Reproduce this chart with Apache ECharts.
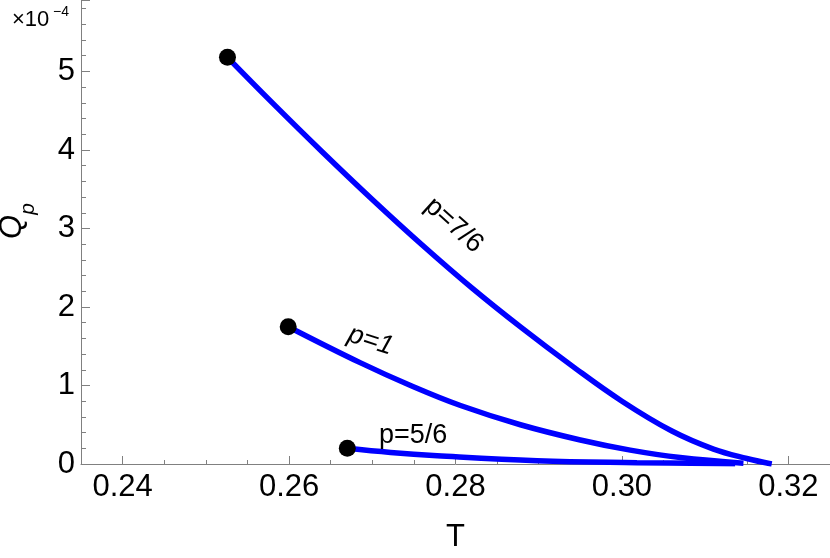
<!DOCTYPE html>
<html><head><meta charset="utf-8">
<script src="https://cdn.jsdelivr.net/npm/echarts@6/dist/echarts.min.js"></script>
<style>html,body{margin:0;padding:0;background:#fff}#c{width:830px;height:558px}</style>
</head><body><div id="c"></div>
<script>
// Q_p values are in units of 1e-4 (axis shows ×10^-4)
const T_p76 = [0.2526, 0.2580, 0.2640, 0.2700, 0.2760, 0.2820, 0.2880, 0.2940, 0.3000, 0.3060, 0.3110, 0.3150, 0.3180];
const Q_p76 = [5.18, 4.60, 3.975, 3.37, 2.79, 2.24, 1.73, 1.25, 0.80, 0.42, 0.19, 0.07, 0.0];
const T_p1  = [0.2599, 0.2686, 0.2746, 0.2806, 0.2878, 0.2950, 0.3010, 0.3070, 0.3146];
const Q_p1  = [1.749, 1.288, 1.00, 0.745, 0.50, 0.306, 0.177, 0.082, 0.01];
const T_p56 = [0.2670, 0.2722, 0.2778, 0.2898, 0.3018, 0.3136];
const Q_p56 = [0.20, 0.147, 0.106, 0.042, 0.017, 0.003];
const xMajorTicks = [0.24, 0.26, 0.28, 0.30, 0.32];
const curveNames = ['p=7/6', 'p=1', 'p=5/6'];
const labelT = [0.2798, 0.2698, 0.2749];
const labelQ = [3.04, 1.57, 0.357];
const yMultiplier = '×10';
const yExponent = '−4';

const FONT = 'Liberation Sans';
const zip = (a, b) => a.map((v, i) => [v, b[i]]);
const axisGray = '#808080';

const chart = echarts.init(document.getElementById('c'));
const lineSeries = (name, t, q) => ({
  type: 'line', name, data: zip(t, q), smooth: 0.4, symbol: 'none',
  lineStyle: { color: '#0000ff', width: 5.5, cap: 'butt', opacity: 1 }, z: 2, silent: true
});
chart.setOption({
  animation: false,
  grid: { left: 81, right: 0, top: 0, bottom: 94, containLabel: false, outerBoundsMode: 'none' },
  xAxis: [{
    type: 'value', min: 0.235, max: 0.325, position: 'bottom',
    axisLine: { show: true, onZero: false, lineStyle: { color: axisGray, width: 1 } },
    axisTick: { show: true, inside: true, length: 8, customValues: xMajorTicks, lineStyle: { color: axisGray, width: 1 } },
    axisLabel: { show: true, customValues: xMajorTicks, formatter: v => v.toFixed(2), fontFamily: FONT, fontSize: 31, color: '#000', margin: 8 },
    splitLine: { show: false },
    name: 'T', nameLocation: 'middle', nameGap: 58,
    nameTextStyle: { fontFamily: FONT, fontSize: 31, color: '#000' }
  }, {
    type: 'value', min: 0.235, max: 0.325, interval: 0.005, position: 'bottom', offset: 0,
    axisLine: { show: false, onZero: false },
    axisTick: { show: true, inside: true, length: 4, lineStyle: { color: axisGray, width: 1 } },
    axisLabel: { show: false }, splitLine: { show: false }
  }],
  yAxis: {
    type: 'value', min: 0, max: 5.91, interval: 1,
    axisLine: { show: true, onZero: false, lineStyle: { color: axisGray, width: 1 } },
    axisTick: { show: true, inside: true, length: 9, lineStyle: { color: axisGray, width: 1 } },
    minorTick: { show: true, splitNumber: 5, length: 5, lineStyle: { color: axisGray, width: 1 } },
    axisLabel: { fontFamily: FONT, fontSize: 31, color: '#000', margin: 6,
      formatter: v => (Math.abs(v - Math.round(v)) < 1e-9 ? String(Math.round(v)) : '') },
    splitLine: { show: false },
    name: '{q|Q}{s|p}', nameLocation: 'middle', nameRotate: 90, nameGap: 42,
    nameTextStyle: {
      padding: [0, 0, 0, 22],
      rich: {
        q: { fontFamily: FONT, fontSize: 31, fontStyle: 'italic', color: '#000', lineHeight: 32, verticalAlign: 'top' },
        s: { fontFamily: FONT, fontSize: 21, fontStyle: 'italic', color: '#000', lineHeight: 42, verticalAlign: 'bottom' }
      }
    }
  },
  graphic: [
    { type: 'text', left: 12, top: 9, style: { text: yMultiplier, fontFamily: FONT, fontSize: 22, fill: '#000' } },
    { type: 'text', left: 53, top: 5, style: { text: yExponent, fontFamily: FONT, fontSize: 14, fill: '#000' } }
  ],
  series: [
    lineSeries(curveNames[0], T_p76, Q_p76),
    lineSeries(curveNames[1], T_p1, Q_p1),
    lineSeries(curveNames[2], T_p56, Q_p56),
    {
      type: 'scatter', silent: true, z: 5, symbolSize: 17,
      itemStyle: { color: '#000', opacity: 1 },
      data: [[T_p76[0], Q_p76[0]], [T_p1[0], Q_p1[0]], [T_p56[0], Q_p56[0]]]
    },
    {
      type: 'scatter', silent: true, z: 6, symbolSize: 0,
      itemStyle: { opacity: 1 },
      data: curveNames.map((n, i) => ({
        value: [labelT[i], labelQ[i]],
        label: {
          show: true, position: 'inside', formatter: n,
          rotate: [-42, -18, 0][i],
          fontStyle: i === 1 ? 'italic' : 'normal',
          fontFamily: FONT, fontSize: 27, color: '#000', opacity: 1
        }
      }))
    }
  ]
});
</script></body></html>
